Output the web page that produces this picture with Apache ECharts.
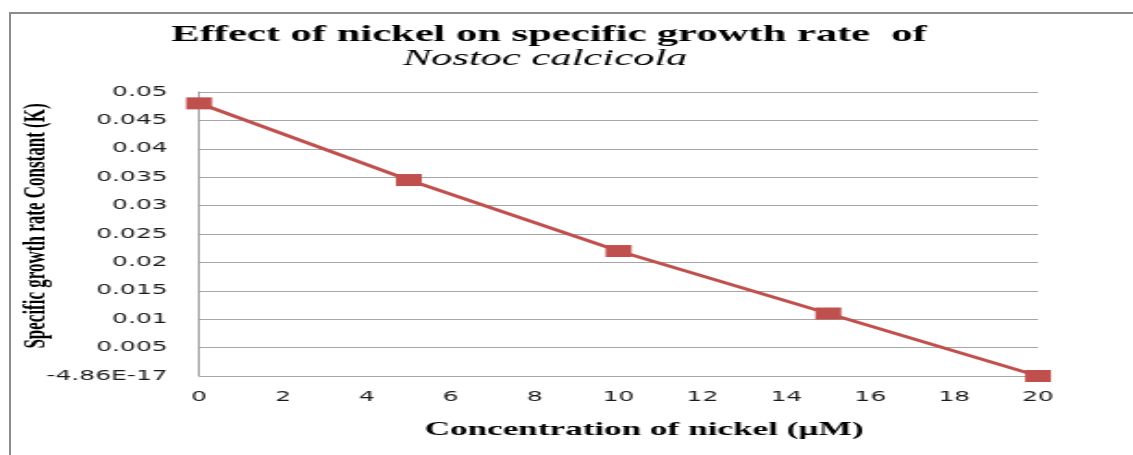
<!DOCTYPE html>
<html>
<head>
<meta charset="utf-8">
<script src="https://cdn.jsdelivr.net/npm/echarts@6/dist/echarts.min.js"></script>
<style>
  html, body { margin: 0; padding: 0; background: #fff; overflow: hidden; }
  #wrap { position: relative; width: 1133px; height: 455px; overflow: hidden; }
  #frame { position: absolute; left: 9px; top: 12px; width: 1200px; height: 500px;
           border-left: 2px solid #8c8c8c; border-top: 2px solid #8c8c8c; }
  /* the reference picture is stretched sideways, so the chart is drawn narrow and widened */
  #chart { position: absolute; left: 0; top: 0; width: 613px; height: 455px;
           transform: scaleX(1.85); transform-origin: 0 0; }
</style>
</head>
<body>
<div id="wrap">
  <div id="frame"></div>
  <div id="chart"></div>
</div>
<script>
(function () {
    var SX = 1.85;

    // data
    var concentration = [0, 5, 10, 15, 20];            // µM
    var growthRate = [0.048, 0.0345, 0.022, 0.011, 0];  // K

    var titleLine1 = 'Effect of nickel on specific growth rate  of';
    var titleLine2 = 'Nostoc calcicola';
    var xName = 'Concentration of nickel (\u00b5M)';
    var yName = 'Specific growth rate Constant (K)';

    var points = [];
    for (var i = 0; i < concentration.length; i++) {
        points.push([concentration[i], growthRate[i]]);
    }

    function label(x, y, text, size, weight, style, rot) {
        return {
            type: 'text', x: x / SX, y: y, rotation: rot || 0,
            style: {
                text: text, fill: '#000',
                fontFamily: '"Liberation Serif", "DejaVu Serif", serif', fontSize: size,
                fontWeight: weight, fontStyle: style,
                textAlign: 'center', textVerticalAlign: 'middle'
            }
        };
    }

    var myChart = echarts.init(document.getElementById('chart'));
    var option = {
        animation: false,
        grid: { left: 107.6, right: 51.9, top: 92, bottom: 79 },
        graphic: [
            label(549, 35, titleLine1, 23, 'bold', 'normal'),
            label(545, 59, titleLine2, 23, 'normal', 'italic'),
            label(644, 430, xName, 19, 'bold', 'normal'),
            label(37, 226, yName, 17, 'bold', 'normal', Math.PI / 2)
        ],
        xAxis: {
            type: 'value',
            min: 0, max: 20, interval: 2,
            axisLine: { show: false },
            axisTick: { show: false },
            splitLine: { show: false },
            axisLabel: { margin: 14, color: '#1a1a1a', fontFamily: 'DejaVu Sans', fontSize: 13.5 }
        },
        yAxis: {
            type: 'value',
            min: 0, max: 0.05, interval: 0.005,
            axisLine: { show: true, lineStyle: { color: '#9a9a9a', width: 1 } },
            axisTick: { show: false },
            splitLine: { show: true, lineStyle: { color: '#a6a6a6', width: 1 } },
            axisLabel: {
                margin: 17, color: '#1a1a1a', fontFamily: 'DejaVu Sans', fontSize: 13.5,
                formatter: function (v) {
                    if (Math.abs(v) < 1e-9) return '-4.86E-17';
                    return String(+v.toFixed(3));
                }
            }
        },
        series: [{
            type: 'line',
            data: points,
            symbol: 'rect',
            symbolSize: [14, 12],
            itemStyle: { color: '#c0504d' },
            lineStyle: { color: '#c0504d', width: 3 }
        }]
    };
    myChart.setOption(option);
})();
</script>
</body>
</html>
